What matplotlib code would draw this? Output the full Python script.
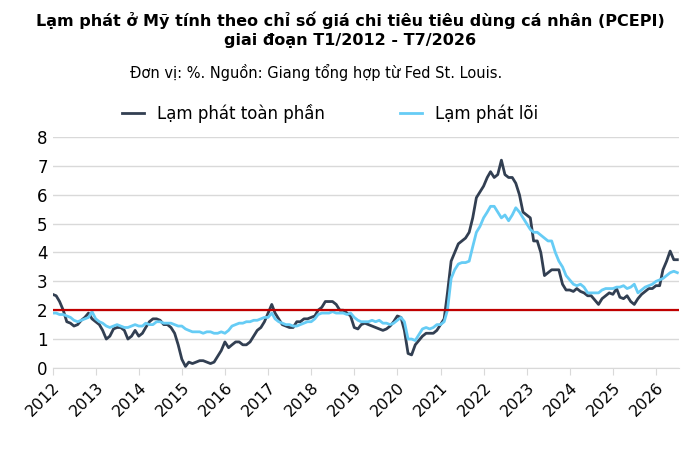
import numpy as np
import pandas as pd
from matplotlib import pyplot as plt

headline = [
    2.55, 2.5, 2.3, 2.0, 1.6, 1.55, 1.45, 1.5, 1.65, 1.75, 1.9, 1.7,
    1.6, 1.5, 1.3, 1.0, 1.1, 1.35, 1.4, 1.4, 1.3, 1.0, 1.1, 1.3,
    1.1, 1.2, 1.4, 1.6, 1.7, 1.7, 1.65, 1.5, 1.5, 1.4, 1.2, 0.8,
    0.3, 0.05, 0.2, 0.15, 0.2, 0.25, 0.25, 0.2, 0.15, 0.2, 0.4, 0.6,
    0.9, 0.7, 0.8, 0.9, 0.9, 0.8, 0.8, 0.9, 1.1, 1.3, 1.4, 1.6,
    1.9, 2.2, 1.9, 1.7, 1.5, 1.45, 1.4, 1.4, 1.6, 1.6, 1.7, 1.7,
    1.75, 1.8, 2.0, 2.1, 2.3, 2.3, 2.3, 2.2, 2.0, 2.0, 1.9, 1.8,
    1.4, 1.35, 1.5, 1.55, 1.5, 1.45, 1.4, 1.35, 1.3, 1.35, 1.45, 1.6,
    1.8, 1.75, 1.3, 0.5, 0.45, 0.8, 0.95, 1.1, 1.2, 1.2, 1.2, 1.3,
    1.5, 1.7, 2.6, 3.7, 4.0, 4.3, 4.4, 4.5, 4.7, 5.2, 5.9, 6.1,
    6.3, 6.6, 6.8, 6.6, 6.7, 7.2, 6.7, 6.6, 6.6, 6.4, 6.0, 5.4,
    5.3, 5.2, 4.4, 4.4, 4.0, 3.2, 3.3, 3.4, 3.4, 3.4, 2.9, 2.7,
    2.7, 2.65, 2.75, 2.65, 2.6, 2.5, 2.5, 2.35, 2.2, 2.4, 2.5, 2.6,
    2.55, 2.75, 2.45, 2.4, 2.5, 2.3, 2.2, 2.4, 2.55, 2.65, 2.75, 2.75,
    2.85, 2.85, 3.4, 3.7, 4.05, 3.75, 3.75,
]
core = [
    1.9, 1.9, 1.85, 1.85, 1.8, 1.75, 1.65, 1.6, 1.65, 1.7, 1.75, 1.95,
    1.7, 1.6, 1.55, 1.45, 1.4, 1.45, 1.5, 1.45, 1.4, 1.4, 1.45, 1.5,
    1.45, 1.45, 1.55, 1.5, 1.5, 1.6, 1.6, 1.55, 1.55, 1.55, 1.5, 1.45,
    1.45, 1.35, 1.3, 1.25, 1.25, 1.25, 1.2, 1.25, 1.25, 1.2, 1.2, 1.25,
    1.2, 1.3, 1.45, 1.5, 1.55, 1.55, 1.6, 1.6, 1.65, 1.65, 1.7, 1.75,
    1.75, 1.9, 1.7, 1.6, 1.55, 1.5, 1.5, 1.45, 1.45, 1.5, 1.55, 1.6,
    1.6, 1.7, 1.85, 1.9, 1.9, 1.9, 1.95, 1.9, 1.9, 1.9, 1.85, 1.9,
    1.75, 1.65, 1.6, 1.6, 1.6, 1.65, 1.6, 1.65, 1.55, 1.55, 1.5, 1.55,
    1.65, 1.75, 1.6, 1.0, 1.0, 0.95, 1.15, 1.35, 1.4, 1.35, 1.4, 1.5,
    1.5, 1.6, 2.0, 3.1, 3.4, 3.6, 3.65, 3.65, 3.7, 4.2, 4.7, 4.9,
    5.2, 5.4, 5.6, 5.6, 5.4, 5.2, 5.3, 5.1, 5.3, 5.55, 5.4, 5.2,
    5.0, 4.8, 4.7, 4.7, 4.6, 4.5, 4.4, 4.4, 4.0, 3.7, 3.5, 3.2,
    3.05, 2.9, 2.85, 2.9, 2.8, 2.6, 2.6, 2.6, 2.6, 2.7, 2.75, 2.75,
    2.75, 2.8, 2.8, 2.85, 2.75, 2.8, 2.9, 2.6, 2.7, 2.8, 2.85, 2.9,
    3.0, 3.05, 3.1, 3.2, 3.3, 3.35, 3.3,
]
dates = pd.date_range('2012-01-01', periods=len(headline), freq='MS')
years = list(range(2012, 2027))

fig = plt.figure(figsize=(7, 4.57), dpi=100)
ax = fig.add_axes([0.075, 0.195, 0.895, 0.505])

ax.plot(dates, headline, color='#323f52', lw=2.0, label='Lạm phát toàn phần')
ax.plot(dates, core, color='#66ccf5', lw=2.0, label='Lạm phát lõi')
ax.axhline(2, color='#c00000', lw=1.6)

ax.set_ylim(0, 8)
ax.set_yticks(range(0, 9))
ax.set_xlim(pd.Timestamp('2012-01-01'), pd.Timestamp('2026-07-15'))
ax.set_xticks([pd.Timestamp(f'{y}-01-01') for y in years])
ax.set_xticklabels([str(y) for y in years], rotation=45, ha='right', rotation_mode='anchor')
ax.grid(axis='y', color='#d9d9d9', lw=1)
ax.set_axisbelow(True)
for s in ['top', 'right', 'left']:
    ax.spines[s].set_visible(False)
ax.spines['bottom'].set_color('#d9d9d9')
ax.tick_params(axis='y', length=0, labelsize=12)
ax.tick_params(axis='x', color='#d9d9d9', length=5, labelsize=11.5)

fig.text(0.5, 0.975, 'Lạm phát ở Mỹ tính theo chỉ số giá chi tiêu tiêu dùng cá nhân (PCEPI)\ngiai đoạn T1/2012 - T7/2026',
         ha='center', va='top', fontsize=11.5, fontweight='bold', linespacing=1.3)
fig.text(0.185, 0.83, 'Đơn vị: %. Nguồn: Giang tổng hợp từ Fed St. Louis.', fontsize=10.5)
fig.legend(loc='center', bbox_to_anchor=(0.472, 0.752), ncol=2, frameon=False,
           fontsize=12, handlelength=1.3, columnspacing=4.5)

fig.savefig('out.png')
